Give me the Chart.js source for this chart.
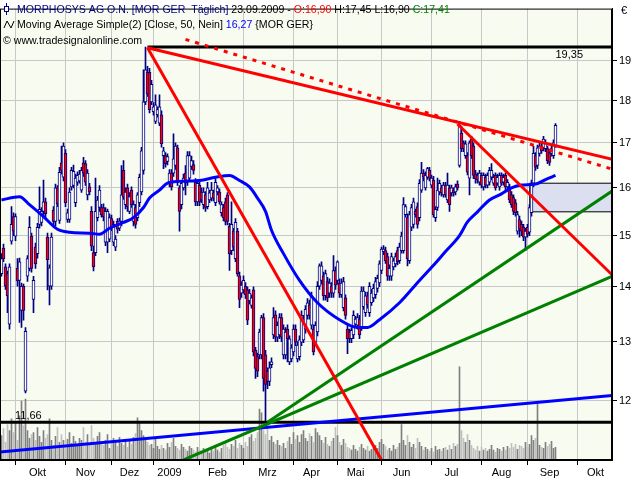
<!DOCTYPE html>
<html>
<head>
<meta charset="utf-8">
<script src="https://cdn.jsdelivr.net/npm/chart.js@4.4.0/dist/chart.umd.min.js"></script>
<style>
html, body { margin: 0; padding: 0; background: #fff; }
</style>
</head>
<body>
<canvas id="chart" width="640" height="480"></canvas>
<script>
// x axis is in trading-day index units
const monthTicks = [7, 32, 55, 76, 99, 121, 146, 168, 190, 215, 240, 263, 288];
const monthLabelPos = [18, 42, 64, 84, 108, 133, 155, 177, 200, 225, 250, 274, 297];
const monthLabels = ['Okt', 'Nov', 'Dez', '2009', 'Feb', 'Mrz', 'Apr', 'Mai', 'Jun', 'Jul', 'Aug', 'Sep', 'Okt'];
const priceTicks = [12, 13, 14, 15, 16, 17, 18, 19];

// daily candles [open, high, low, close]
const candles = [
 [14.25,14.64,14.20,14.54],[14.75,14.83,14.48,14.54],[14.38,14.44,13.95,14.01],[14.25,14.30,13.52,13.83],[13.31,14.44,13.22,14.38],
 [14.89,15.60,14.83,15.23],[15.39,15.47,15.00,15.09],[14.99,15.45,14.90,15.39],[14.35,14.54,14.01,14.11],[14.12,14.55,13.34,14.48],
 [13.56,14.07,13.25,14.01],[14.01,14.05,13.38,13.56],[12.16,13.25,12.13,13.18],[14.20,14.60,14.10,14.54],[14.35,15.39,14.30,15.17],
 [14.99,15.05,14.28,14.35],[13.76,14.20,13.52,14.12],[14.77,14.85,14.35,14.44],[14.64,15.25,14.55,15.17],[15.23,16.02,15.15,15.54],
 [15.27,15.58,15.20,15.50],[15.50,16.17,15.40,15.70],[15.70,15.78,15.38,15.45],[14.97,15.05,13.94,14.52],[14.01,14.42,13.66,14.36],
 [14.01,15.05,13.95,14.97],[15.52,15.60,15.20,15.29],[15.29,16.08,15.20,16.00],[16.00,16.05,15.60,15.66],[15.31,16.45,15.25,16.34],
 [16.55,16.93,16.30,16.38],[16.23,17.00,16.15,16.93],[16.76,16.85,15.60,15.68],[15.33,15.55,15.27,15.47],[15.33,16.00,15.27,15.91],
 [16.02,16.45,15.95,16.38],[16.05,16.50,16.00,16.36],[15.68,16.30,15.60,16.21],[16.12,16.35,16.05,16.27],[16.15,16.38,16.10,16.30],
 [15.95,16.45,15.90,16.38],[16.55,16.67,16.25,16.32],[16.53,16.60,16.05,16.12],[15.85,16.40,15.74,16.32],[16.02,16.10,15.85,15.91],
 [15.50,15.60,14.70,14.79],[14.66,14.79,14.30,14.38],[14.66,16.21,14.60,15.50],[15.37,15.82,15.30,15.74],[15.58,16.05,15.50,15.95],
 [15.58,15.65,15.38,15.43],[15.58,15.66,15.30,15.39],[14.87,15.58,14.80,15.50],[14.87,15.55,14.66,15.50],[14.93,15.45,14.88,15.37],
 [15.35,15.42,15.10,15.17],[14.87,15.30,14.80,15.23],[14.77,15.00,14.70,14.93],[15.29,15.35,15.05,15.13],[15.15,15.36,15.10,15.30],
 [15.29,16.49,15.20,15.85],[16.38,16.60,15.75,15.80],[15.64,16.00,15.55,15.91],[16.00,16.08,15.50,15.60],[15.50,15.90,15.45,15.81],
 [15.95,16.02,15.58,15.64],[15.29,15.72,15.20,15.64],[15.58,15.65,15.15,15.23],[15.37,15.90,15.30,15.85],[15.68,16.30,15.60,16.23],
 [15.91,16.90,15.85,16.82],[16.38,18.76,16.30,17.97],[17.97,19.35,17.90,18.76],[18.70,18.85,18.10,18.16],[18.70,18.80,17.70,17.78],
 [17.97,18.50,17.90,18.40],[17.73,17.95,17.65,17.85],[17.50,18.14,17.45,17.90],[17.66,17.85,17.60,17.78],[17.46,18.14,17.40,17.85],
 [17.66,17.75,16.90,16.98],[16.71,16.90,16.42,16.82],[16.71,16.78,16.45,16.53],[16.58,16.75,16.50,16.69],[16.12,16.40,16.02,16.32],
 [16.32,16.40,15.95,16.02],[16.32,17.21,16.25,16.64],[16.49,17.00,16.40,16.93],[16.89,16.95,16.05,16.12],[16.00,16.05,15.09,15.50],
 [15.64,16.15,15.55,16.10],[16.00,16.30,15.95,16.21],[16.32,16.49,15.85,16.10],[16.12,16.80,16.05,16.71],[16.21,16.80,16.15,16.71],
 [16.47,16.70,16.40,16.60],[16.51,16.60,16.30,16.38],[16.12,16.20,15.62,15.70],[15.70,16.18,15.62,16.10],[16.06,16.15,15.62,15.70],
 [15.91,16.00,15.68,15.74],[15.64,16.00,15.55,15.91],[15.85,15.92,15.50,15.58],[15.60,16.12,15.55,16.00],[15.74,15.95,15.68,15.89],
 [15.78,16.12,15.72,15.95],[15.89,15.95,15.72,15.78],[15.68,16.20,15.62,16.12],[15.91,16.05,15.85,16.00],[15.91,15.98,15.65,15.70],
 [15.47,15.70,15.40,15.64],[15.58,15.65,15.30,15.37],[15.70,15.78,15.22,15.29],[15.85,15.90,15.22,15.29],[15.19,15.25,14.31,14.64],
 [14.70,15.70,14.62,15.23],[15.09,15.15,14.70,14.77],[14.54,15.35,14.48,15.27],[15.09,15.15,14.20,14.25],[14.21,14.28,13.61,13.76],
 [13.88,14.10,13.80,14.03],[13.94,14.21,13.88,14.12],[14.01,14.08,13.78,13.85],[13.94,14.00,13.30,13.38],[13.74,13.95,13.68,13.88],
 [13.65,13.85,13.60,13.79],[13.94,14.00,12.75,12.82],[12.85,12.90,12.37,12.54],[12.74,12.80,12.40,12.49],[12.77,13.22,12.70,13.17],
 [12.77,13.47,12.70,13.43],[13.43,13.50,12.16,12.37],[12.77,12.85,11.66,12.27],[12.49,12.55,12.20,12.32],[12.32,12.65,12.25,12.55],
 [12.60,12.72,12.55,12.65],[13.12,13.61,13.05,13.43],[13.48,13.55,13.00,13.08],[13.08,13.35,13.00,13.29],[13.12,13.50,13.05,13.43],
 [13.43,13.50,13.00,13.08],[12.77,13.30,12.70,13.22],[12.77,13.25,12.70,13.17],[13.22,13.30,12.65,13.05],[12.65,13.10,12.60,13.05],
 [12.70,12.95,12.65,12.89],[12.82,13.30,12.75,13.22],[13.22,13.30,12.93,12.99],[12.70,13.00,12.65,12.94],[12.74,13.10,12.68,13.03],
 [12.99,13.55,12.93,13.47],[13.03,13.47,12.98,13.40],[13.22,13.65,13.15,13.58],[13.47,13.78,13.40,13.70],[13.66,13.75,13.40,13.47],
 [13.29,13.90,13.22,13.83],[13.22,13.30,12.77,12.82],[12.99,13.35,12.93,13.29],[13.17,14.10,13.10,14.01],[14.01,14.44,13.95,14.40],
 [14.12,14.48,14.05,14.40],[14.21,14.28,13.75,13.83],[13.83,14.32,13.75,14.25],[14.10,14.18,13.72,13.79],[13.88,14.15,13.80,14.07],
 [14.01,14.08,13.80,13.88],[13.88,14.60,13.80,14.31],[14.31,14.38,13.95,14.03],[14.12,14.50,14.05,14.48],[14.07,14.15,13.80,13.88],
 [13.85,14.15,13.80,14.07],[13.61,14.18,13.55,14.10],[13.79,13.85,13.40,13.47],[13.22,13.30,12.79,13.05],[13.17,13.22,12.98,13.05],
 [13.05,13.25,12.98,13.20],[13.12,13.55,13.05,13.47],[13.31,13.45,13.25,13.40],[13.29,13.50,13.22,13.43],[13.40,13.47,13.05,13.12],
 [13.25,14.00,13.20,13.92],[13.63,14.00,13.58,13.92],[13.52,13.90,13.45,13.83],[13.83,13.90,13.60,13.66],[13.52,14.08,13.45,14.01],
 [13.70,13.95,13.65,13.88],[13.79,14.05,13.72,13.97],[13.85,14.18,13.78,14.10],[13.97,14.22,13.90,14.16],[14.07,14.50,14.00,14.44],
 [14.31,14.77,14.25,14.73],[14.68,14.80,14.62,14.73],[14.70,14.77,14.45,14.50],[14.58,14.65,14.12,14.20],[14.20,14.42,14.12,14.35],
 [14.20,14.65,14.12,14.58],[14.38,14.55,14.32,14.50],[14.44,14.65,14.38,14.58],[14.70,14.77,14.42,14.48],[14.50,14.85,14.45,14.77],
 [14.70,15.07,14.65,14.99],[14.70,15.79,14.65,15.64],[15.43,15.64,15.38,15.60],[15.37,15.45,14.40,14.54],[14.50,15.50,14.45,15.43],
 [15.17,15.65,15.10,15.58],[15.23,15.78,15.15,15.70],[15.50,15.55,15.38,15.43],[15.60,15.68,15.15,15.23],[15.37,16.18,15.30,16.10],
 [15.95,16.56,15.90,16.32],[16.32,16.40,16.15,16.23],[16.00,16.35,15.95,16.27],[16.23,16.45,16.18,16.42],[16.38,16.45,16.15,16.21],
 [16.06,16.28,16.00,16.21],[16.17,16.25,15.38,15.43],[15.37,15.60,15.29,15.54],[15.58,16.21,15.52,15.95],[15.91,16.17,15.85,16.10],
 [16.00,16.06,15.82,15.89],[15.85,16.12,15.80,16.06],[16.06,16.12,15.80,15.85],[15.74,16.32,15.68,16.06],[16.00,16.06,15.50,15.64],
 [15.89,16.06,15.82,16.00],[15.95,16.00,15.82,15.89],[15.91,16.08,15.85,16.02],[16.08,16.15,15.95,16.00],[16.49,17.50,16.45,17.41],
 [17.23,17.39,16.80,16.87],[17.00,17.05,16.80,16.87],[16.71,17.05,16.65,16.98],[16.71,16.78,16.28,16.34],[16.21,17.05,15.85,17.00],
 [17.09,17.15,16.65,16.71],[16.93,17.00,16.20,16.27],[16.30,16.38,16.10,16.20],[16.27,16.33,16.10,16.17],[16.12,16.38,16.06,16.32],
 [16.27,16.33,16.00,16.06],[16.02,16.33,15.95,16.27],[16.23,16.30,16.00,16.06],[16.06,16.33,16.00,16.27],[16.12,16.45,16.06,16.38],
 [16.23,16.53,16.17,16.38],[16.10,16.30,16.05,16.23],[16.27,16.33,15.95,16.00],[16.10,16.30,16.05,16.23],[16.02,16.33,15.95,16.27],
 [16.27,16.33,16.05,16.10],[16.12,16.30,16.06,16.23],[16.27,16.33,15.95,16.02],[16.02,16.18,15.97,16.12],[16.02,16.08,15.68,15.74],
 [15.85,15.92,15.58,15.64],[15.79,15.85,15.43,15.50],[15.68,15.75,15.40,15.47],[15.09,15.50,15.03,15.43],[15.33,15.40,14.97,15.13],
 [15.23,15.30,15.00,15.09],[15.17,15.23,14.90,14.97],[14.97,15.15,14.70,15.09],[15.17,15.23,14.97,15.03],[15.07,15.64,15.00,15.58],
 [15.47,16.17,15.40,16.10],[16.10,16.93,16.02,16.76],[16.71,16.78,16.38,16.45],[16.49,16.95,16.42,16.89],[16.76,17.00,16.70,16.93],
 [16.93,17.00,16.76,16.82],[16.89,17.15,16.82,17.09],[16.87,17.07,16.80,17.00],[16.87,16.93,16.53,16.60],[16.78,16.85,16.49,16.56],
 [16.76,16.93,16.70,16.87],[16.71,17.07,16.65,17.00],[16.90,17.45,16.90,17.41]
];

// volume in thousand shares
const volume = [
 250, 320, 180, 360, 300, 420, 280, 380, 200, 450, 600, 350, 620, 300, 220, 260, 280, 200, 330, 240,
 180, 300, 220, 260, 420, 200, 150, 240, 330, 180, 260, 200, 150, 210, 280, 170, 240, 190, 160, 220,
 200, 330, 180, 260, 160, 350, 220, 170, 240, 280, 190, 150, 200, 260, 120, 170, 220, 180, 140, 230,
 170, 150, 210, 130, 190, 160, 230, 270, 430, 380, 300, 250, 200, 180, 150, 160, 120, 210, 140, 110,
 150, 120, 100, 170, 130, 180, 220, 140, 120, 100, 160, 130, 110, 90, 140, 120, 100, 80, 130, 110,
 90, 120, 80, 100, 70, 110, 90, 130, 100, 80, 120, 150, 180, 130, 110, 160, 140, 200, 120, 170,
 150, 120, 180, 140, 230, 260, 190, 220, 280, 520, 480, 300, 260, 350, 200, 240, 180, 160, 200, 150,
 140, 170, 120, 190, 230, 160, 280, 210, 250, 180, 260, 300, 220, 190, 270, 240, 180, 320, 280, 250,
 200, 170, 230, 160, 140, 190, 220, 330, 250, 180, 150, 210, 170, 130, 120, 100, 150, 110, 90, 130,
 160, 120, 100, 140, 90, 110, 130, 150, 120, 180, 210, 160, 140, 100, 120, 90, 150, 110, 130, 170,
 360, 200, 150, 250, 180, 130, 160, 120, 220, 180, 140, 100, 130, 110, 90, 120, 80, 140, 100, 110,
 90, 120, 130, 100, 150, 110, 170, 140, 160, 950, 300, 220, 180, 260, 200, 150, 120, 100, 140, 90,
 130, 100, 120, 90, 110, 150, 100, 80, 120, 110, 90, 130, 100, 140, 120, 170, 130, 160, 110, 150,
 140, 120, 180, 130, 160, 250, 200, 220, 590, 150, 130, 120, 180, 140, 160, 190, 120, 130
];

// 50-day moving average [day index, value]
const movingAvg = [
 [0, 15.74], [9, 15.81], [14, 15.64], [21, 15.39], [28, 15.13], [34, 15.07], [44, 15.05], [49, 15.03],
 [54, 15.15], [61, 15.27], [66, 15.37], [71, 15.58], [74, 15.78], [79, 15.95], [83, 16.10], [89, 16.14],
 [99, 16.16], [107, 16.23], [114, 16.27], [119, 16.16], [124, 16.02], [128, 15.78], [132, 15.50], [135, 15.11],
 [141, 14.64], [149, 14.12], [158, 13.70], [169, 13.39], [178, 13.25], [183, 13.25], [189, 13.39], [199, 13.70],
 [209, 14.12], [216, 14.41], [222, 14.68], [229, 15.00], [233, 15.28], [238, 15.49], [244, 15.74], [250, 15.87],
 [255, 16.00], [260, 16.06], [267, 16.08], [272, 16.18], [277, 16.27]
];

// drawing tools [day index, price]
const redSteep = [[73, 19.33], [190, 11.08]];
const redUpper = [[73, 19.33], [306, 16.62]];
const redDashed = [[92, 19.55], [306, 16.40]];
const redJuly = [[228, 17.44], [306, 14.20]];
const greenLow = [[91, 11.08], [306, 14.21]];
const greenHigh = [[133, 11.66], [306, 15.95]];
const blueSupport = [[-1, 11.20], [306, 12.09]];
const highLevel = [[73, 19.35], [306, 19.35]];
const lowLevel = [[-1, 11.66], [306, 11.66]];
const boxTop = [[264, 16.10], [306, 16.10]];
const boxBottom = [[264, 15.49], [306, 15.49]];
const boxEdge = [[264, 16.10], [264, 15.49]];

const titleLine1 = [['MORPHOSYS AG O.N. [MOR GER  Täglich]', '#000080'], [' 23.09.2009 - ', '#000000'],
  ['O:16,90', '#ff0000'], [' H:17,45 L:16,90 ', '#000000'], ['C:17,41', '#008000']];
const titleLine2 = [['Moving Average Simple(2) [Close, 50, Nein]', '#000000'], [' 16,27', '#0000ff'], [' {MOR GER}', '#000000']];
const titleLine3 = '\u00a9 www.tradesignalonline.com';

const FONT = '11px "Liberation Sans", Arial, sans-serif';
const HEAD_FONT = '10.6px "Liberation Sans", Arial, sans-serif';
Chart.defaults.font.family = '"Liberation Sans", Arial, sans-serif';
Chart.defaults.font.size = 11;
Chart.defaults.color = '#000';

const pts = a => a.map(p => ({x: p[0], y: p[1]}));
const isUp = c => c[3] >= c[0];

function lineSet(data, color, width, order, extra) {
  return Object.assign({
    type: 'line', data: pts(data), borderColor: color, borderWidth: width,
    pointRadius: 0, fill: false, tension: 0, order: order, clip: 0, yAxisID: 'y'
  }, extra || {});
}

const decor = {
  id: 'decor',
  beforeDraw(chart) {
    const {ctx, chartArea: a} = chart;
    ctx.save();
    ctx.fillStyle = '#ffffff';
    ctx.fillRect(0, 0, chart.width, chart.height);
    ctx.fillStyle = '#f8fbf0';
    ctx.fillRect(a.left, a.top, a.right - a.left, a.bottom - a.top);
    ctx.restore();
  },
  afterDraw(chart) {
    const {ctx, chartArea: a} = chart;
    const ys = chart.scales.y;
    ctx.save();
    ctx.strokeStyle = '#000';
    ctx.lineWidth = 1;
    ctx.strokeRect(a.left + 0.5, a.top + 0.5, a.right - a.left - 1, a.bottom - a.top - 1);

    ctx.font = HEAD_FONT;
    ctx.textBaseline = 'alphabetic';
    const run = (x, y, parts) => {
      for (const [t, col] of parts) {
        ctx.fillStyle = col;
        ctx.fillText(t, x, y);
        x += ctx.measureText(t).width;
      }
    };
    run(17, 13, titleLine1);
    run(17, 28, titleLine2);
    ctx.fillStyle = '#000';
    ctx.fillText(titleLine3, 3, 44);

    // legend glyphs
    ctx.strokeStyle = '#000080';
    ctx.beginPath();
    ctx.moveTo(6.5, 3); ctx.lineTo(6.5, 15);
    ctx.stroke();
    ctx.fillStyle = '#f8fbf0';
    ctx.fillRect(4.5, 6.5, 4, 5);
    ctx.strokeRect(4.5, 6.5, 4, 5);
    ctx.strokeStyle = '#000';
    ctx.beginPath();
    ctx.moveTo(4, 28); ctx.lineTo(7, 21); ctx.lineTo(11, 28); ctx.lineTo(14, 21);
    ctx.stroke();

    ctx.font = FONT;
    ctx.fillStyle = '#000';
    ctx.textAlign = 'right';
    ctx.fillText('19,35', 583, ys.getPixelForValue(19.35) + 11);
    ctx.textAlign = 'left';
    ctx.fillText('11,66', 15, ys.getPixelForValue(11.66) - 3);
    ctx.fillText('\u20ac', 621, 14);
    ctx.restore();
  }
};

const boundarySet = new Set(monthTicks);

new Chart(document.getElementById('chart'), {
  type: 'bar',
  data: {
    datasets: [
      lineSet(redSteep, '#ff0000', 3, 1),
      lineSet(redUpper, '#ff0000', 3, 1),
      lineSet(redDashed, '#ff0000', 3, 1, {borderDash: [4, 6]}),
      lineSet(redJuly, '#ff0000', 3, 1),
      lineSet(greenLow, '#008000', 3, 1),
      lineSet(greenHigh, '#008000', 3, 1),
      lineSet(blueSupport, '#0000ff', 3, 1),
      lineSet(highLevel, '#000000', 3, 1),
      lineSet(lowLevel, '#000000', 3, 1),
      lineSet(movingAvg, '#0000ff', 3, 2, {cubicInterpolationMode: 'monotone'}),
      {
        type: 'bar', order: 3, yAxisID: 'y', grouped: false, barThickness: 3,
        data: candles.map((c, i) => ({x: i, y: [Math.min(c[0], c[3]), Math.max(c[0], c[3])]})),
        backgroundColor: candles.map(c => isUp(c) ? '#ffffff' : '#ff0000'),
        borderColor: '#000080', borderWidth: 1, borderSkipped: false
      },
      {
        type: 'bar', order: 4, yAxisID: 'y', grouped: false, barThickness: 1,
        data: candles.map((c, i) => ({x: i, y: [c[2], c[1]]})),
        backgroundColor: '#000080'
      },
      lineSet(boxTop, '#000000', 1, 5),
      lineSet(boxBottom, '#000000', 1, 5, {fill: {target: '-1'}, backgroundColor: '#dcdff0'}),
      lineSet(boxEdge, '#000000', 1, 5),
      {
        type: 'bar', order: 6, yAxisID: 'yv', grouped: false, barThickness: 1,
        data: volume.map((v, i) => ({x: i, y: v})),
        backgroundColor: candles.map(c => isUp(c) ? '#808080' : '#c0c0c0')
      }
    ]
  },
  options: {
    responsive: false,
    animation: false,
    devicePixelRatio: 1,
    layout: {padding: 0},
    plugins: {legend: {display: false}, tooltip: {enabled: false}},
    scales: {
      x: {
        type: 'linear', position: 'bottom', min: -0.75, max: 305.25, offset: false,
        afterBuildTicks: sc => {
          sc.ticks = monthTicks.concat(monthLabelPos).map(v => ({value: v}));
        },
        afterFit: sc => { sc.height = 20; },
        ticks: {
          autoSkip: false, maxRotation: 0, padding: 1,
          callback: v => {
            const k = monthLabelPos.indexOf(v);
            return k >= 0 ? monthLabels[k] : '';
          }
        },
        grid: {
          offset: false, tickLength: 5,
          color: c => (c.tick && boundarySet.has(c.tick.value)) ? '#c8c8c8' : 'rgba(0,0,0,0)',
          tickColor: c => (c.tick && boundarySet.has(c.tick.value)) ? '#000000' : 'rgba(0,0,0,0)'
        },
        border: {display: true, color: '#000'}
      },
      y: {
        type: 'logarithmic', position: 'right', min: 11.08, max: 20.38,
        afterBuildTicks: sc => { sc.ticks = priceTicks.map(v => ({value: v})); },
        afterFit: sc => { sc.width = 28; },
        ticks: {padding: 2, callback: v => String(v)},
        grid: {color: '#c8c8c8', tickColor: '#000', tickLength: 5},
        border: {display: true, color: '#000'}
      },
      yv: {
        type: 'linear', display: false, min: 0, max: 4600
      }
    }
  },
  plugins: [decor]
});
</script>
</body>
</html>
